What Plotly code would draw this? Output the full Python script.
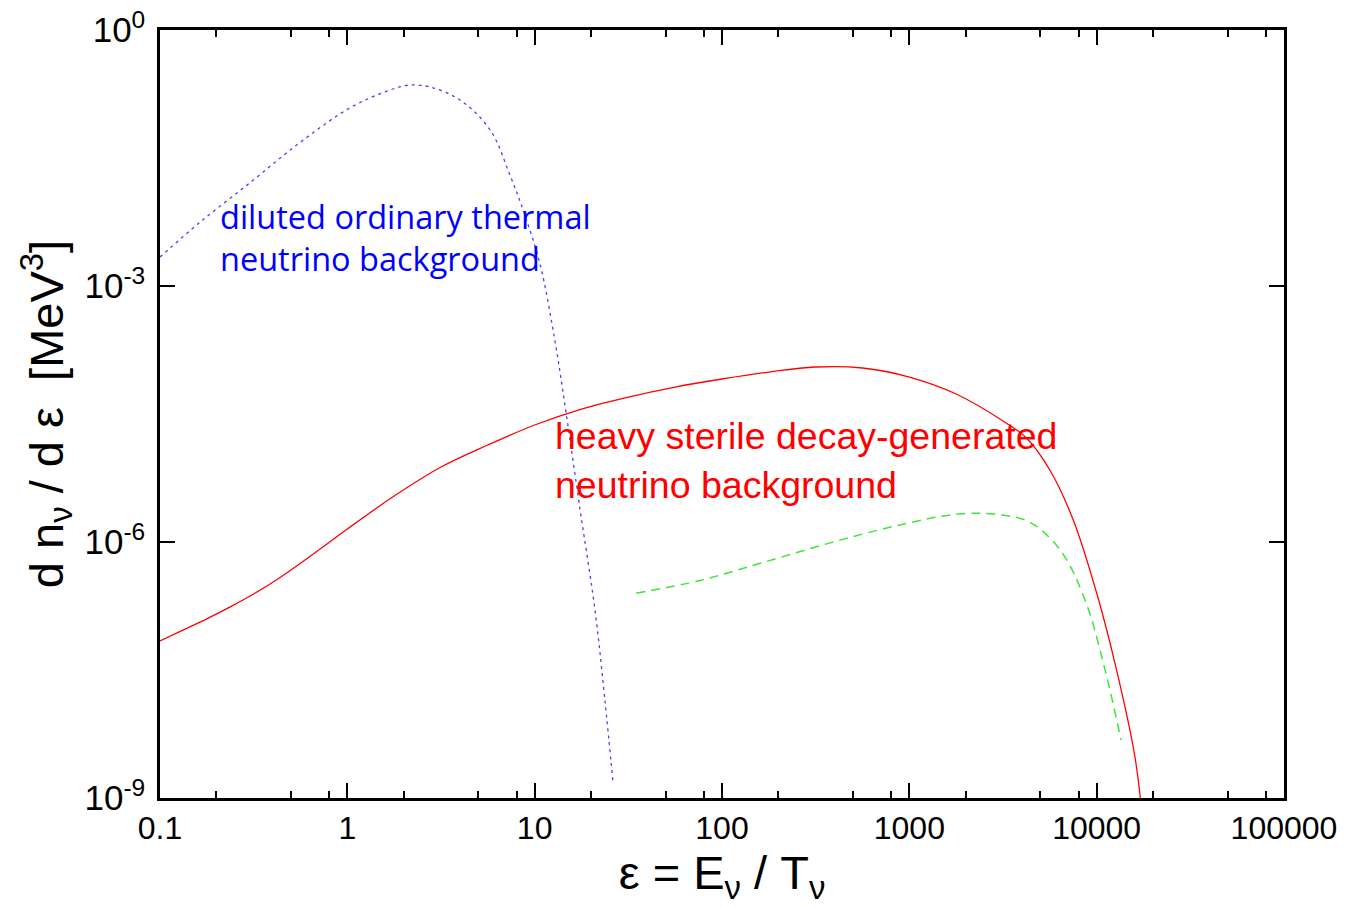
import plotly.graph_objects as go

# Thermal (blue dotted) curve: x, log10(y)
thermal_x = [0.1, 0.164, 0.302, 0.558, 1.03, 1.69, 2.16, 2.76, 3.99, 5.78, 7.38, 8.87, 10.7, 12.8, 14.7, 17.5, 21.0, 23.7, 26.2]
thermal_logy = [-2.66, -2.25, -1.79, -1.32, -0.914, -0.703, -0.645, -0.668, -0.82, -1.17, -1.70, -2.17, -2.75, -3.63, -4.48, -5.63, -6.80, -7.85, -8.82]

# Heavy sterile decay-generated (red solid) curve: log10(x), log10(y)
sterile_logx = [-1.0, -0.875, -0.75, -0.625, -0.5, -0.375, -0.25, -0.125, 0.0, 0.25, 0.5, 0.75, 1.0, 1.25, 1.5, 1.75, 2.0, 2.25, 2.5, 2.75, 3.0, 3.25, 3.5, 3.625, 3.75, 3.875, 4.0, 4.1, 4.2, 4.233]
sterile_logy = [-7.160, -7.030, -6.900, -6.760, -6.610, -6.440, -6.250, -6.050, -5.848, -5.461, -5.121, -4.863, -4.629, -4.442, -4.301, -4.184, -4.090, -4.008, -3.949, -3.961, -4.067, -4.266, -4.582, -4.781, -5.156, -5.742, -6.598, -7.442, -8.461, -9.0]

# Green dashed curve
green_x = [34.8, 76.4, 160, 378, 892, 1866, 3050, 4410, 6370, 8670, 11090, 13490]
green_logy = [-6.60, -6.45, -6.25, -6.01, -5.80, -5.67, -5.68, -5.77, -6.09, -6.68, -7.50, -8.32]

x_tickvals = [0.1, 1, 10, 100, 1000, 10000, 100000]
x_ticktext = ["0.1", "1", "10", "100", "1000", "10000", "100000"]
x_minor = [m * 10.0 ** e for e in range(-1, 5) for m in (2, 5, 8)]
y_tickvals = [1e0, 1e-3, 1e-6, 1e-9]
y_ticktext = ["10<sup>0</sup>", "10<sup>-3</sup>", "10<sup>-6</sup>", "10<sup>-9</sup>"]

def lin(v):
    return [10.0 ** t for t in v]

fig = go.Figure()
fig.add_trace(go.Scatter(x=thermal_x, y=lin(thermal_logy), mode="lines",
                         line=dict(color="rgb(80,60,255)", width=1.3, dash="3px,4px", shape="spline"),
                         showlegend=False))
fig.add_trace(go.Scatter(x=lin(sterile_logx), y=lin(sterile_logy), mode="lines",
                         line=dict(color="rgb(255,0,0)", width=1.3, shape="spline", smoothing=1.0),
                         showlegend=False))
fig.add_trace(go.Scatter(x=green_x, y=lin(green_logy), mode="lines",
                         line=dict(color="rgb(60,230,60)", width=1.5, dash="9px,6px", shape="spline"),
                         showlegend=False))

fig.add_annotation(x=-0.69, y=-2.43, xref="x", yref="y", xanchor="left", yanchor="middle",
                   text="diluted ordinary thermal<br>neutrino background", showarrow=False, align="left",
                   font=dict(family="Open Sans", size=32.5, color="rgb(0,0,255)"))
fig.add_annotation(x=1.10, y=-5.04, xref="x", yref="y", xanchor="left", yanchor="middle",
                   text="heavy sterile decay-generated<br>neutrino background", showarrow=False, align="left",
                   font=dict(family="Liberation Sans", size=37.5, color="rgb(255,0,0)"))

axis_common = dict(showline=True, linecolor="black", linewidth=2.5, mirror="allticks",
                   ticks="inside", ticklen=15, tickwidth=2, tickcolor="black",
                   showgrid=False, zeroline=False, automargin=False, ticklabeloverflow="allow")

fig.update_xaxes(type="log", range=[-1, 5], tickmode="array", tickvals=x_tickvals, ticktext=x_ticktext,
                 tickfont=dict(family="Liberation Sans", size=32, color="black"),
                 minor=dict(tickmode="array", tickvals=x_minor, ticks="inside", ticklen=7, tickwidth=2,
                            tickcolor="black", showgrid=False),
                 title=dict(text="ε = E<sub>ν</sub> / T<sub>ν</sub>", font=dict(family="Liberation Sans", size=47, color="black"), standoff=4),
                 **axis_common)
fig.update_yaxes(type="log", range=[-9, 0], tickmode="array", tickvals=y_tickvals, ticktext=y_ticktext,
                 tickfont=dict(family="Liberation Sans", size=35, color="black"), ticklabelstandoff=5,
                 title=dict(text="d n<sub>ν</sub> / d ε  [MeV<sup>3</sup>]", font=dict(family="Liberation Sans", size=47, color="black"), standoff=7),
                 **axis_common)

fig.update_layout(width=1341, height=900, margin=dict(l=152, r=65, t=22, b=110),
                  plot_bgcolor="white", paper_bgcolor="white")
fig.write_html("out.html")
